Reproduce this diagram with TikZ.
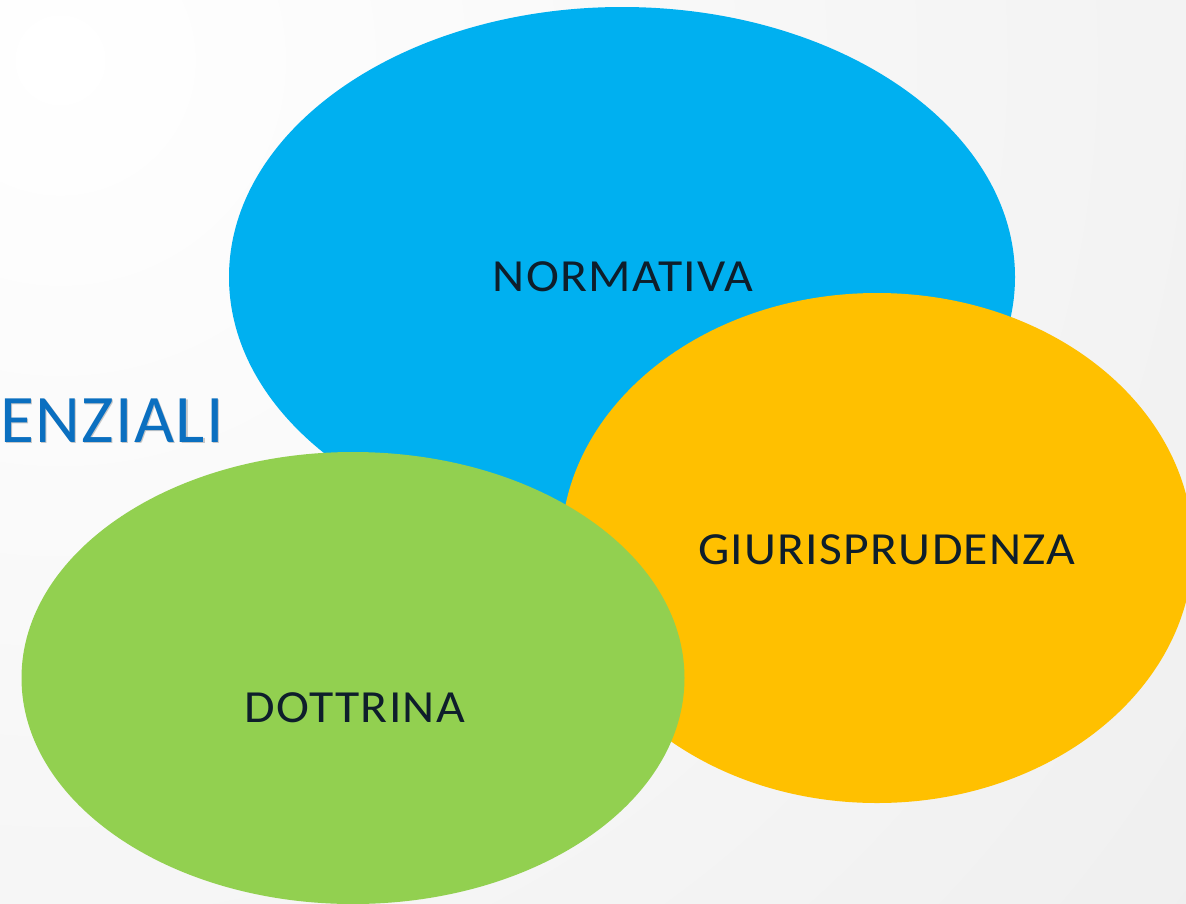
\documentclass[tikz,border=0pt]{standalone}
\usepackage{fontspec}
\setmainfont{Carlito}
\newfontfamily\lblfont[LetterSpace=2.5]{Carlito}
\newfontfamily\titfont[LetterSpace=2]{Carlito}
\usetikzlibrary{shapes.geometric}
\definecolor{bluef}{HTML}{00B0F0}
\definecolor{yellowf}{HTML}{FFC000}
\definecolor{greenf}{HTML}{92D050}
\definecolor{labelc}{HTML}{0E1E2B}
\definecolor{titlec}{HTML}{0A6FC0}
\tikzset{
  blob/.style={ellipse, draw=none, inner sep=0pt, outer sep=0pt},
  lbl/.style={text=labelc, font=\lblfont\fontsize{46}{54}\selectfont, inner sep=0pt, xscale=1.08},
  tit/.style={anchor=base east, inner sep=0pt, font=\titfont\fontsize{68}{80}\selectfont, xscale=1.02},
}
\begin{document}
\begin{tikzpicture}[x=1pt,y=-1pt]
\useasboundingbox (0,0) rectangle (1186,903);
\begin{scope}
\clip (0,0) rectangle (1186,903);
\shade[inner color=white, outer color=black!10] (60,60) circle (2300pt);
\end{scope}
% blue ellipse
\node[blob, fill=bluef, minimum width=786pt, minimum height=540pt] (norm) at (622,277) {};
\node[lbl] (normt) at (623,277) {NORMATIVA};
% yellow
\node[blob, fill=yellowf, minimum width=632pt, minimum height=510pt] (giur) at (877,548) {};
\node[lbl] (giurt) at (887,550) {GIURISPRUDENZA};
% green
\node[blob, fill=greenf, minimum width=663pt, minimum height=452pt] (dott) at (353,678) {};
\node[lbl] (dottt) at (355,708) {DOTTRINA};
% title fragment
\node[tit, text=black!22] (titsh) at (225.5,443.5) {ENZIALI};
\node[tit, text=titlec] (tit) at (224,442) {ENZIALI};
\end{tikzpicture}
\end{document}
